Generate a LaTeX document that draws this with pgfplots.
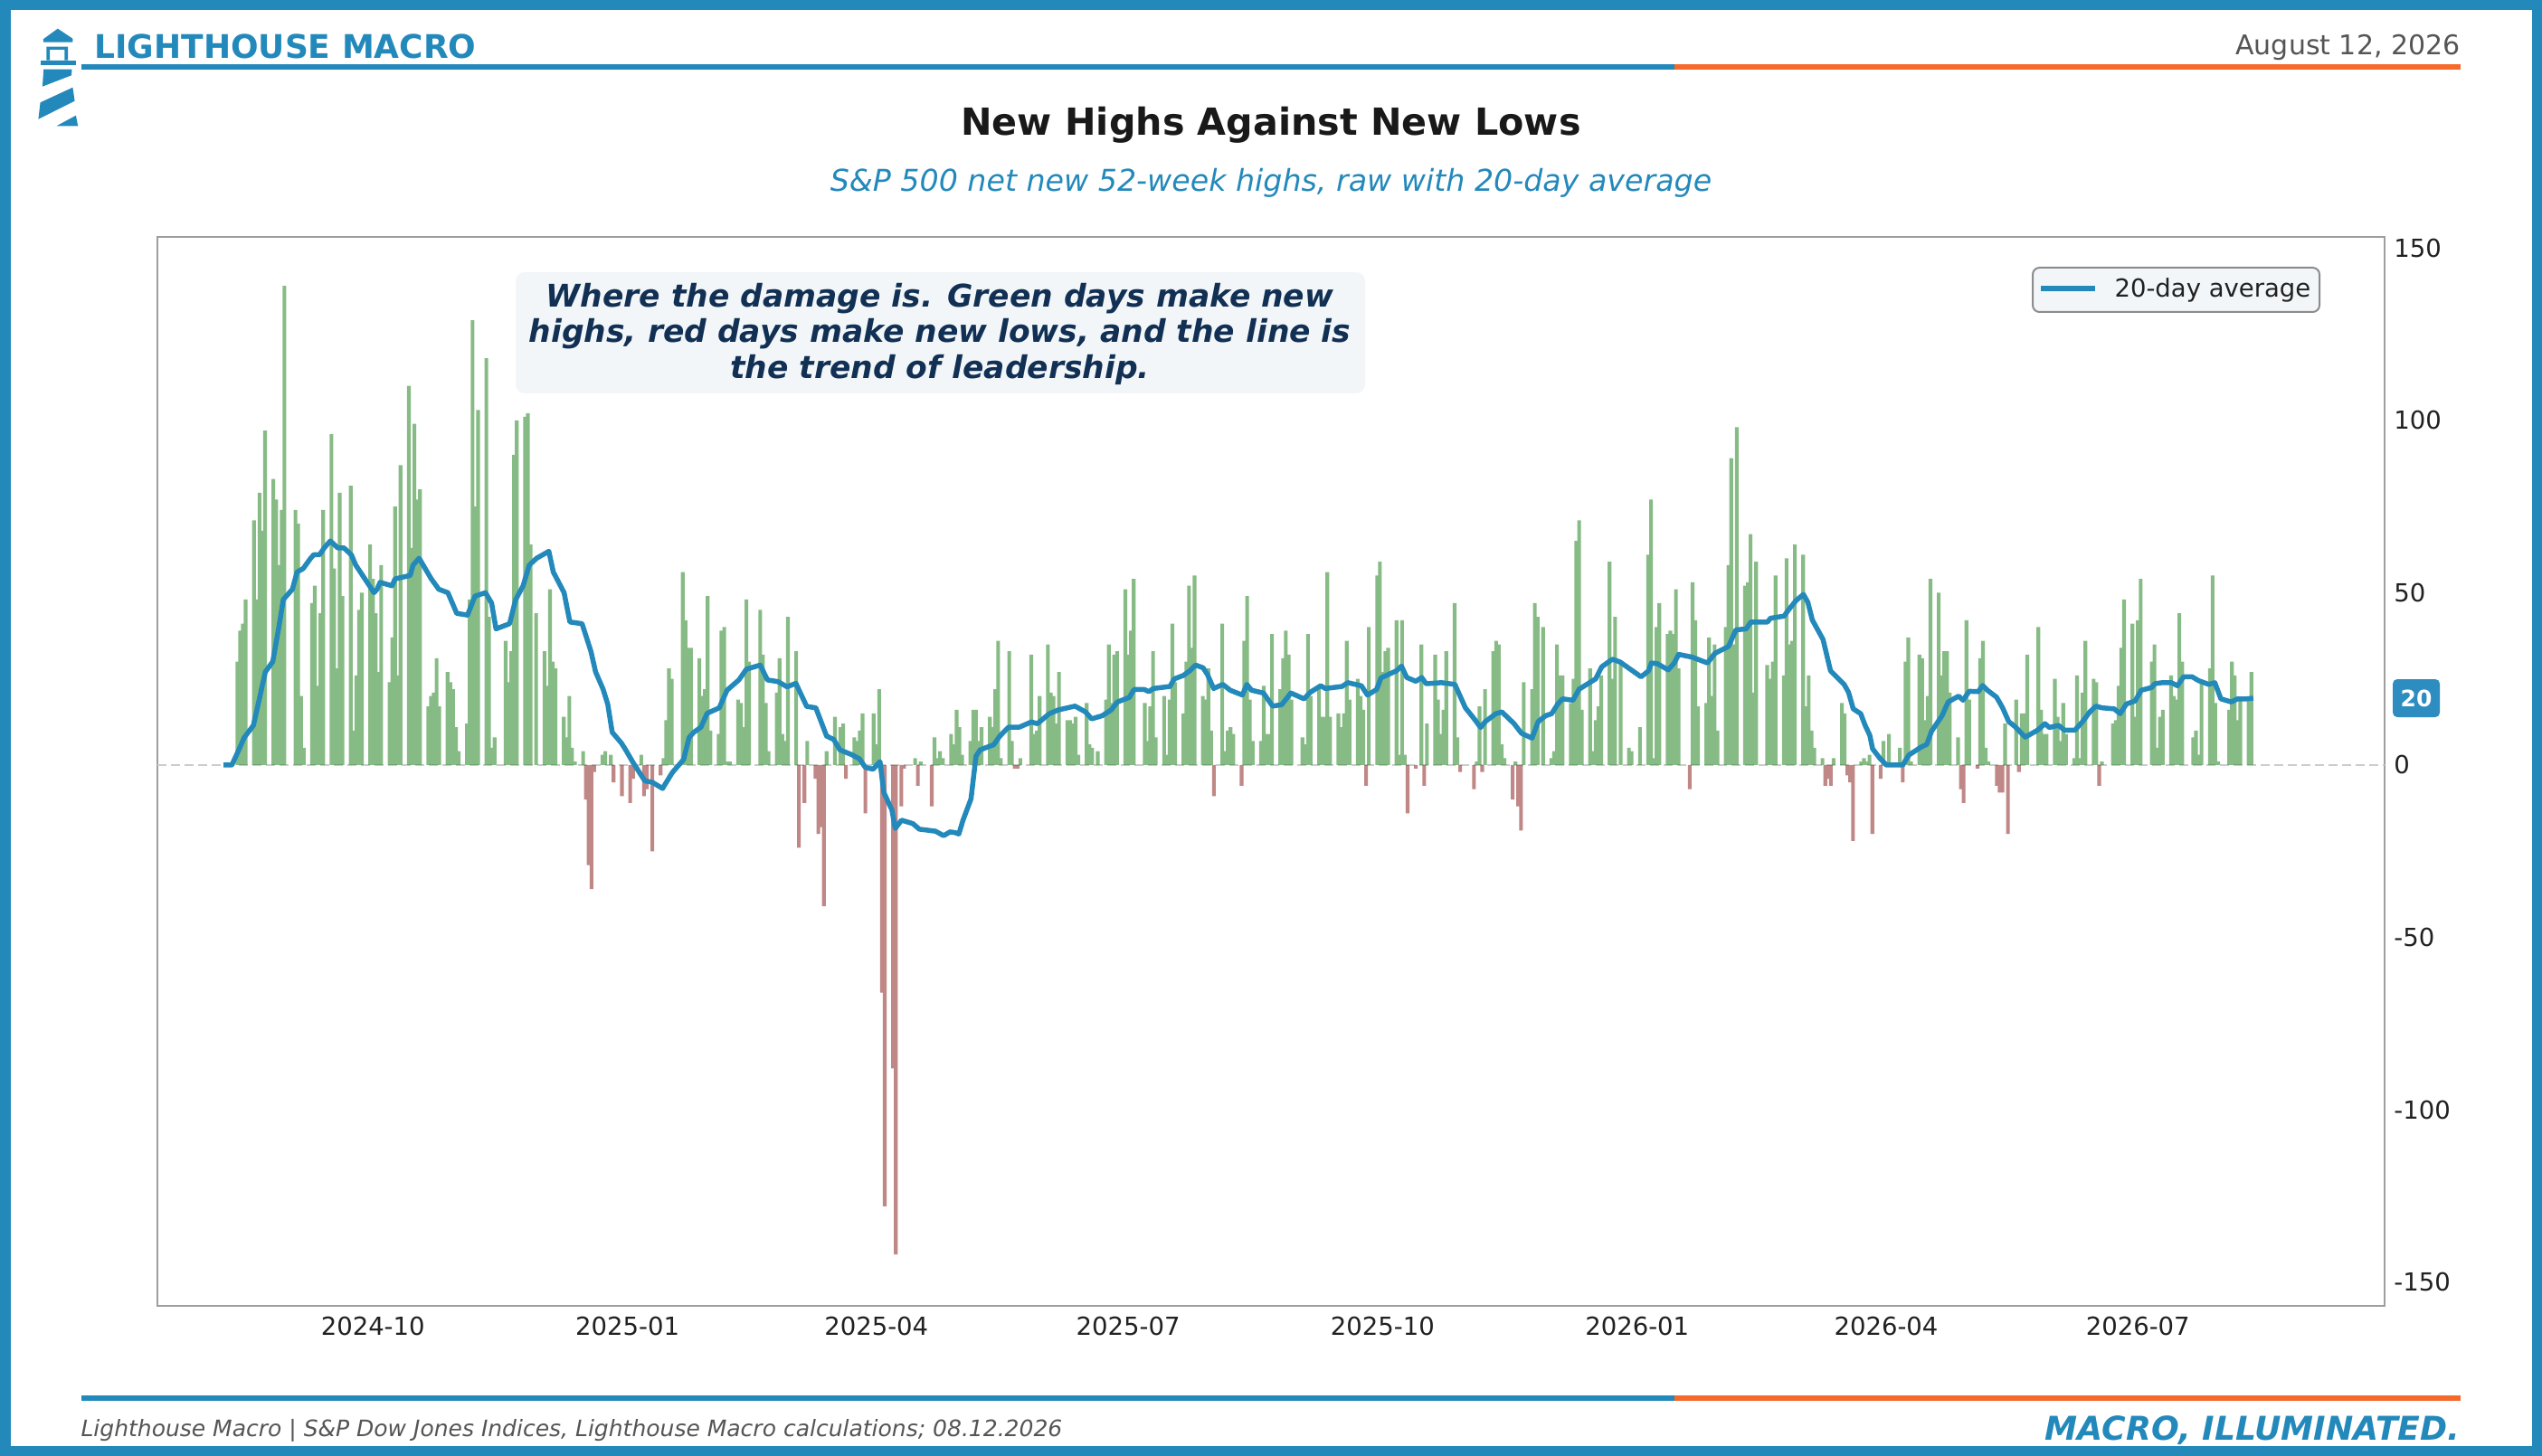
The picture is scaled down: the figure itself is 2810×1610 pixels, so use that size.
\documentclass[border=0pt]{standalone}
\usepackage{fontspec}
\setmainfont{DejaVu Sans}
\usepackage{pgfplots}
\pgfplotsset{compat=1.18}
\definecolor{lmblue}{RGB}{35,137,187}
\definecolor{lmorange}{RGB}{245,105,43}
\definecolor{lmnavy}{RGB}{17,48,84}
\definecolor{barg}{RGB}{38,132,33}
\definecolor{barr}{RGB}{135,25,25}
\definecolor{boxfill}{RGB}{242,246,249}
\definecolor{txtgray}{RGB}{85,85,85}
\definecolor{badge}{RGB}{46,141,192}
\begin{document}
\begin{tikzpicture}[x=1pt,y=1pt]
\begin{scope}[x=0.4pt,y=-0.4pt]
\useasboundingbox (0,0) rectangle (2810,1610);
\fill[white] (0,0) rectangle (2810,1610);
\end{scope}

\begin{axis}[
  at={(69.6pt,-577.6pt)}, anchor=south west,
  scale only axis, width=984.8pt, height=472.8pt,
  xmin=-77.9, xmax=727.2, ymin=-156.9, ymax=153.2,
  axis line style={draw=black!38, line width=0.6pt},
  xtick={0,92,182,273,365,457,547,638},
  xticklabels={2024-10,2025-01,2025-04,2025-07,2025-10,2026-01,2026-04,2026-07},
  ytick={-150,-100,-50,0,50,100,150},
  yticklabel pos=right,
  major tick length=0pt,
  tick label style={font=\fontsize{11}{13}\selectfont, text=black!87},
  xticklabel style={yshift=-1.4pt},
  yticklabel style={xshift=0.6pt},
  /pgf/number format/assume math mode=true,
  clip=true,
]
\addplot[forget plot, draw=black!20, line width=1pt, dash pattern=on 4pt off 2pt] coordinates {(-77.9,0) (727.2,0)};
% green bars (net new highs > 0)
\addplot[forget plot, ybar, bar width=1.35, bar shift=0pt, fill=barg, fill opacity=0.55, draw=none] coordinates {
(-49,30) (-48,39) (-47,41) (-46,48)
(-43,71) (-42,48) (-41,79) (-40,68) (-39,97)
(-36,83) (-35,77) (-34,58) (-33,74) (-32,139)
(-28,74) (-27,70) (-26,20) (-25,5)
(-22,47) (-21,52) (-20,23) (-19,44) (-18,74)
(-15,96) (-14,57) (-13,28) (-12,79) (-11,49)
(-8,81) (-7,10) (-6,26) (-5,45) (-4,50)
(-1,64) (0,54) (1,44) (2,27) (3,58)
(6,24) (7,37) (8,75) (9,26) (10,87)
(13,110) (14,63) (15,99) (16,77) (17,80)
(20,17) (21,20) (22,21) (23,31) (24,17)
(27,27) (28,24) (29,22) (30,11) (31,4)
(34,12) (35,48) (36,129) (37,75) (38,103)
(41,118) (42,43) (43,5) (44,8)
(48,36) (49,24) (50,33) (51,90) (52,100)
(55,101) (56,102) (57,64) (59,44)
(62,33) (63,23) (64,51) (65,30) (66,28)
(69,14) (70,8) (71,20) (72,5) (73,1)
(76,4) (83,3) (84,4) (86,3) (97,3)
(105,2) (106,13) (107,28) (108,25)
(112,56) (113,42) (114,34) (115,34)
(118,31) (119,20) (120,22) (121,49) (122,10)
(125,9) (126,39) (127,40) (128,1) (129,1)
(132,19) (133,18) (134,11) (135,48) (136,30)
(140,45) (141,32) (142,18) (143,4)
(146,21) (147,31) (148,9) (149,7) (150,43)
(153,33) (157,7) (164,4)
(167,14) (169,11) (170,12)
(174,8) (175,7) (176,10) (177,15)
(181,15) (182,6) (183,22)
(196,2) (198,1)
(203,8) (204,2) (205,4) (206,2)
(209,9) (210,6) (211,16) (212,11) (213,3)
(216,7) (217,16) (218,16) (219,7) (220,11)
(223,14) (224,11) (225,22) (226,36) (227,2)
(230,33) (231,7) (234,2)
(238,32) (239,9) (240,10) (241,20)
(244,35) (245,21) (246,20) (247,12) (248,27)
(251,13) (252,13) (253,12) (254,14) (255,3)
(258,18) (259,6) (260,5) (262,4)
(265,19) (266,35) (267,18) (268,32) (269,33)
(272,51) (273,32) (274,39) (275,54)
(279,18) (280,7) (281,17) (282,33) (283,8)
(286,20) (287,3) (288,19) (289,41) (290,24)
(293,15) (294,30) (295,52) (296,34) (297,55)
(300,20) (301,19) (302,28) (303,10)
(307,41) (308,4) (309,10) (310,11) (311,9)
(315,36) (316,49) (317,19) (318,7)
(321,7) (322,23) (323,9) (324,9) (325,38)
(328,22) (329,31) (330,39) (331,32) (332,19)
(336,8) (337,6) (338,38) (339,20)
(342,22) (343,14) (344,14) (345,56) (346,14)
(349,15) (350,11) (351,15) (352,36) (353,19)
(356,25) (357,20) (358,16) (360,40)
(363,55) (364,59) (365,27) (366,33) (367,34)
(370,42) (371,3) (372,42) (373,3)
(379,35) (381,12)
(384,32) (385,19) (386,9) (387,16) (388,33)
(391,47) (392,8)
(399,1) (400,17) (402,22)
(405,33) (406,36) (407,35) (408,6) (409,2)
(413,1) (416,24)
(419,22) (420,47) (421,43) (423,40)
(426,2) (427,4) (428,35) (429,26) (430,26)
(433,18) (434,25) (435,65) (436,71) (437,16)
(440,28) (441,4) (442,13) (443,17) (444,26)
(447,59) (448,25) (449,43) (451,30)
(454,5) (455,4) (458,11)
(461,61) (462,77) (463,2) (464,40) (465,47)
(468,38) (469,39) (470,38) (471,51) (472,28)
(477,53) (478,42) (479,17)
(482,18) (483,37) (484,20) (485,35) (486,10)
(489,40) (490,58) (491,89) (492,35) (493,98)
(496,52) (497,53) (498,67) (499,21) (500,59)
(504,29) (505,25) (506,30) (507,55)
(510,26) (511,60) (512,35) (513,36) (514,64)
(517,61) (518,17) (519,26) (520,10) (521,5)
(524,2) (528,2)
(531,18) (532,15)
(538,1) (539,2) (540,1) (541,3)
(546,7) (548,9)
(552,5) (554,30) (555,37) (556,1)
(559,32) (560,31) (561,13) (562,20) (563,54)
(566,50) (567,26) (568,33) (569,33) (570,21)
(573,8) (576,42) (577,19)
(581,31) (582,36) (583,5) (584,1)
(590,12)
(594,19) (596,15) (597,15) (598,32)
(602,40) (603,16) (604,9) (605,9)
(608,25) (609,14) (610,7) (611,18) (612,9)
(615,2) (616,26) (617,2) (618,21) (619,36)
(622,25) (623,24) (625,1)
(629,12) (630,13) (631,23) (632,34) (633,48)
(636,41) (637,14) (638,42) (639,54)
(643,30) (644,35) (645,5) (646,14) (647,16)
(650,26) (651,20) (652,19) (653,44) (654,30)
(658,8) (659,10) (660,3) (661,24)
(664,28) (665,55) (666,18) (667,1)
(671,16) (672,30) (673,26) (674,13) (675,19)
(678,19) (679,27)
};
% red bars (net new lows)
\addplot[forget plot, ybar, bar width=1.35, bar shift=0pt, fill=barr, fill opacity=0.52, draw=none] coordinates {
(77,-10) (78,-29) (79,-36) (80,-2) (87,-5)
(90,-9) (93,-11) (94,-4) (98,-9) (99,-7) (101,-25) (104,-3)
(154,-24) (156,-11) (160,-4) (161,-20) (162,-18) (163,-41)
(171,-4) (178,-14) (184,-66) (185,-128) (188,-88) (189,-142) (191,-12) (192,-1)
(197,-6) (202,-12) (232,-1) (233,-1)
(304,-9) (314,-6) (359,-6) (374,-14) (377,-1) (380,-6) (393,-2)
(398,-7) (401,-2) (412,-10) (414,-12) (415,-19) (476,-7)
(525,-6) (526,-4) (527,-6) (533,-3) (534,-5) (535,-22) (542,-20)
(545,-4) (553,-5) (574,-7) (575,-11) (580,-1)
(587,-6) (588,-8) (589,-8) (591,-20) (595,-2) (624,-6)
};
% 20-day average
\addplot[lmblue, line width=2.2pt, line join=round] coordinates {
(-54,0) (-51,0) (-48.7,4) (-46.5,8) (-43.2,11.5) (-41.1,19) (-38.9,27) (-36.2,30) (-34,40) (-32.4,48)
(-29.1,51) (-27.4,56) (-25.2,57) (-22.5,60) (-21.4,61) (-19.3,61) (-17.6,63) (-15.4,65) (-12.7,63) (-10.5,63)
(-7.8,61) (-6.2,58) (-2.9,54) (0.4,50) (1.5,51) (2.6,53) (6.9,52) (8,54) (13.5,55) (14.5,58)
(16.7,60) (18.9,57) (21.1,54) (23.8,51) (27.1,50) (30.3,44) (34.2,43.5) (36.9,49) (40.7,50) (42.9,47)
(44.5,39.5) (49.4,41) (51.6,48) (54.3,52) (56.5,58) (59.2,60) (63.6,62) (65.2,56) (69.1,50) (71.2,41.5)
(75.6,41) (78.8,33) (80.5,27) (83.2,22) (84.9,17.6) (86.5,9.5) (89.8,6.4) (91.3,4.5) (94.2,0.5) (98.3,-4.6)
(101,-5) (104.7,-6.8) (108.2,-2.2) (112.3,1.6) (114.3,8) (116,9.5) (118.6,11) (120.8,15) (125.2,16.6) (128,21.7)
(132.3,24.7) (135,27.8) (140,29) (142.6,24.7) (146.4,24.2) (149.7,22.7) (152.9,23.7) (156.8,17) (160.1,16.6) (164,8.4)
(166.6,7.4) (168.8,4.4) (173.1,3) (175.9,1.8) (178,-0.7) (180.8,-1.2) (183.3,1) (184.7,-8) (187.6,-13) (188.8,-18.4)
(191.1,-16) (195.2,-17) (197.5,-18.6) (203.4,-19.2) (206.3,-20.5) (208.6,-19.4) (210.4,-19.6) (211.8,-20) (213.3,-16) (216.2,-9.8)
(218,2.6) (219.5,4.4) (224.4,5.9) (226.6,8.4) (229.8,11) (233.7,11) (238,12.5) (240.2,12) (244.5,14.9) (247.8,16)
(251.1,16.6) (253.8,17.1) (257.6,15.4) (259.8,13.4) (263.6,14.3) (266.9,16) (269.1,18.3) (273.4,19.6) (275.1,21.9) (278.9,21.9)
(280.5,21.3) (282.1,22.2) (288.1,22.8) (289.7,25) (293,26) (295.2,27.3) (297.4,29) (300.1,28.2) (301.7,26.2) (303.9,22.2)
(307.2,23.4) (309.9,21.7) (314.3,20.3) (315.9,23.4) (317.6,21.7) (321.9,20.9) (325.2,17.1) (328.5,17.5) (331.8,20.9) (336.6,19.2)
(338.8,21.1) (342.6,23) (344.3,22.2) (350.3,22.8) (352.4,23.9) (357.3,23) (359.5,20.3) (362.8,21.9) (364.4,25.3) (369.9,27.3)
(371.8,28.7) (373.7,25.4) (377,24.3) (379.1,25.4) (380.7,23.6) (386.2,23.9) (391.1,23.4) (394.9,16.6) (398,13.5) (400.4,10.9)
(402.1,12.6) (405.9,14.9) (408.1,15.4) (412.5,12) (415.2,9.2) (419,7.8) (421.2,12.6) (423.9,14.3) (426.1,14.9) (428.3,17.7)
(430,19.2) (433.8,18.8) (436,22) (442,25) (444.2,28.5) (448,30.7) (450.8,29.9) (458.4,25.6) (461.1,27.3) (462.1,29.6)
(464.3,29.4) (468.2,27.6) (470.4,29.6) (472,32.1) (476.9,31.3) (482.4,29.6) (485.1,32.4) (490,34.4) (492.7,39.2) (496.4,39.5)
(498.1,41.5) (504.1,41.5) (505.2,42.6) (510.1,43.2) (511.6,44.9) (514.4,47.7) (517.1,49.5) (518.7,47.2) (520.3,42.1) (524.2,36.4)
(526.9,27.3) (531.8,23.4) (533.4,21.1) (535.1,16.3) (537.8,14.9) (539.4,11.5) (541.1,8.6) (542.1,4.7) (544.9,1.8) (547.1,0)
(553,0) (555.2,2.9) (559.6,5.2) (561.7,6) (563.4,9.8) (567.2,14.3) (569.4,18.3) (573.2,20) (574.8,18.8) (577,21.4)
(580.3,21.3) (581.9,23.1) (583.6,21.7) (586.9,19.7) (589.1,16.6) (591.3,12.6) (593.5,11.2) (597.3,8.1) (601.7,10.1) (604.4,12)
(606,10.9) (609.3,11.5) (611.5,10.1) (615.2,10.1) (618,12.6) (620.6,15.4) (622.8,17.1) (625,16.6) (629.4,16.3) (631.6,14.9)
(633.8,17.7) (637,18.6) (639.2,21.7) (643,22.5) (644.1,23.6) (646.8,23.9) (650.1,23.9) (652.3,23) (654.5,25.6) (657.6,25.6)
(659.9,24.5) (663.6,23.4) (665.8,23.9) (668,19.2) (671.8,18.3) (674,19.2) (677.2,19.2) (679.7,19.4)
};
\end{axis}

\begin{scope}[x=0.4pt,y=-0.4pt]
% outer frame
\draw[lmblue, line width=4.6pt] (5.75,5.75) rectangle (2804.25,1604.25);
% lighthouse logo
\fill[lmblue] (63.8,31.7) -- (80.4,42.7) -- (80.4,46.7) -- (47.8,46.7) -- (47.8,43.3) -- cycle;
\fill[lmblue, even odd rule] (51.3,51.7) rectangle (75,66.7) (55,55) rectangle (71.4,66.7);
\fill[lmblue] (44.6,66.7) rectangle (83.5,71.7);
\fill[lmblue] (48.2,76.7) -- (79.5,76.7) -- (79,83.3) -- (46.9,95.7) -- cycle;
\fill[lmblue] (44.6,113.3) -- (80.4,96.7) -- (82.6,111.7) -- (42.4,131.7) -- cycle;
\fill[lmblue] (83.9,127.7) -- (86.2,139.3) -- (62.5,139.3) -- cycle;
% header
\node[anchor=base west, inner sep=0pt, text=lmblue, font=\bfseries\fontsize{14.4}{16}\selectfont] at (104,65) {LIGHTHOUSE MACRO};
\fill[lmblue] (90,71) rectangle (1851,77);
\fill[lmorange] (1851,71) rectangle (2720,77);
\node[anchor=base east, inner sep=0pt, text=txtgray, font=\fontsize{12}{14}\selectfont] at (2720,61) {August 12, 2026};
% titles
\node[anchor=base, inner sep=0pt, text=black!90, font=\bfseries\fontsize{16.5}{19}\selectfont] at (1405,150) {New Highs Against New Lows};
\node[anchor=base, inner sep=0pt, text=lmblue, font=\itshape\fontsize{13.3}{15}\selectfont] at (1405,212) {S\&P 500 net new 52-week highs, raw with 20-day average};
% annotation
\fill[boxfill, rounded corners=4pt] (570,301) rectangle (1509,435);
\node[anchor=base, inner sep=0pt, text=lmnavy, font=\bfseries\itshape\fontsize{13.8}{16}\selectfont] at (1039,339.5) {Where the damage is. Green days make new};
\node[anchor=base, inner sep=0pt, text=lmnavy, font=\bfseries\itshape\fontsize{13.8}{16}\selectfont] at (1039,379) {highs, red days make new lows, and the line is};
\node[anchor=base, inner sep=0pt, text=lmnavy, font=\bfseries\itshape\fontsize{13.8}{16}\selectfont] at (1039,419) {the trend of leadership.};
% legend
\draw[fill=boxfill, draw=black!45, line width=0.8pt, rounded corners=3pt] (2247,296) rectangle (2564,345);
\draw[lmblue, line width=2.2pt] (2256,319) -- (2316,319);
\node[anchor=base west, inner sep=0pt, text=black!87, font=\fontsize{11}{13}\selectfont] at (2337,329) {20-day average};
% last value badge
\node[fill=badge, rounded corners=2pt, text=white, inner sep=0pt, minimum width=20.8pt, minimum height=16.8pt, font=\bfseries\fontsize{10}{12}\selectfont] at (2671,772) {20};
% footer
\fill[lmblue] (90,1543) rectangle (1851,1549);
\fill[lmorange] (1851,1543) rectangle (2720,1549);
\node[anchor=base west, inner sep=0pt, text=txtgray, font=\itshape\fontsize{10}{12}\selectfont] at (89,1588) {Lighthouse Macro | S\&P Dow Jones Indices, Lighthouse Macro calculations; 08.12.2026};
\node[anchor=base east, inner sep=0pt, text=lmblue, font=\bfseries\itshape\fontsize{14.5}{16}\selectfont] at (2720,1592) {MACRO, ILLUMINATED.};
\end{scope}
\end{tikzpicture}
\end{document}
